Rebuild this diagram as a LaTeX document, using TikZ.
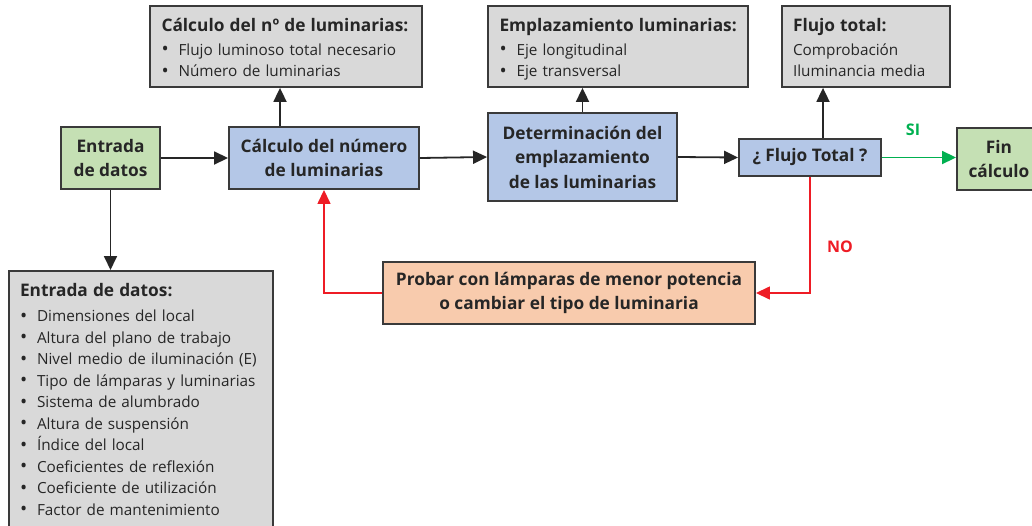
\documentclass[tikz,border=0pt]{standalone}
\usepackage{fontspec}
\setmainfont{Open Sans}
\usetikzlibrary{arrows.meta}
\definecolor{dark}{HTML}{262626}
\definecolor{edge}{HTML}{3A3A3A}
\definecolor{grayfill}{HTML}{D9D9D9}
\definecolor{greenfill}{HTML}{C5E0B4}
\definecolor{bluefill}{HTML}{B4C7E7}
\definecolor{orangefill}{HTML}{F8CBAD}
\definecolor{redline}{HTML}{EE1C25}
\definecolor{greenline}{HTML}{00B050}
\newcommand{\bul}{\makebox[17pt][l]{\raisebox{-0.5pt}{\scalebox{1.25}{•}}}}
\newcommand{\hd}[1]{\rule{0pt}{26pt}\mbox{\fontsize{17.3}{22}\selectfont\bfseries #1}}
\tikzset{
  boxbase/.style={draw=edge, line width=1.9pt, inner sep=0pt, text=dark},
  mainbox/.style={boxbase, align=center, font=\fontsize{17.3}{24.5}\selectfont\bfseries},
  infobox/.style={boxbase, fill=grayfill, align=left, anchor=north, font=\fontsize{15.3}{21.5}\selectfont},
  arr/.style={draw=dark, line width=1.8pt, -{Triangle[length=14pt,width=13pt]}},
  redarr/.style={draw=redline, line width=1.5pt, -{Triangle[length=14pt,width=13pt]}},
  greenarr/.style={draw=greenline, line width=1.8pt, -{Triangle[length=14pt,width=13pt]}},
}
\begin{document}
\begin{tikzpicture}[x=1pt,y=-1pt]
\useasboundingbox (0,0) rectangle (1032,525);
% main boxes
\node[mainbox, fill=greenfill, minimum width=99pt, minimum height=62pt] (entrada) at (110.5,158) {Entrada\\de datos};
\node[mainbox, fill=bluefill, minimum width=190pt, minimum height=62pt] (calc) at (324,158) {Cálculo del número\\de luminarias};
\node[mainbox, fill=bluefill, minimum width=189pt, minimum height=88pt] (det) at (582.5,157) {Determinación del\\emplazamiento\\de las luminarias};
\node[mainbox, fill=bluefill, minimum width=142pt, minimum height=37pt] (flujo) at (810,157.5) {¿ Flujo Total ?};
\node[mainbox, fill=greenfill, minimum width=84pt, minimum height=62pt] (fin) at (999,159) {Fin\\cálculo};
\node[mainbox, fill=orangefill, minimum width=372pt, minimum height=62pt] (probar) at (569,293) {Probar con lámparas de menor potencia\\o cambiar el tipo de luminaria};
% info boxes
\node[infobox, minimum width=272pt, text width=249pt] (g1) at (286,5)
 {\hd{Cálculo del nº de luminarias:}\\[2pt]
  \bul Flujo luminoso total necesario\\
  \bul Número de luminarias\rule[-10pt]{0pt}{10pt}};
\node[infobox, minimum width=260pt, text width=237pt] (g2) at (618,5)
 {\hd{Emplazamiento luminarias:}\\[2pt]
  \bul Eje longitudinal\\
  \bul Eje transversal\rule[-10pt]{0pt}{10pt}};
\node[infobox, minimum width=168pt, text width=146pt] (g3) at (866,5)
 {\hd{Flujo total:}\\[2pt]
  Comprobación\\
  Iluminancia media\rule[-10pt]{0pt}{10pt}};
\node[infobox, minimum width=264pt, text width=242pt] (g4) at (141,270)
 {\hd{Entrada de datos:}\\[3.5pt]
  \bul Dimensiones del local\\
  \bul Altura del plano de trabajo\\
  \bul Nivel medio de iluminación (E)\\
  \bul Tipo de lámparas y luminarias\\
  \bul Sistema de alumbrado\\
  \bul Altura de suspensión\\
  \bul Índice del local\\
  \bul Coeficientes de reflexión\\
  \bul Coeficiente de utilización\\
  \bul Factor de mantenimiento\rule[-20pt]{0pt}{20pt}};
% connectors
\draw[arr] (entrada.east) -- (calc.west);
\draw[arr] (calc.east) -- (det.west);
\draw[arr] (det.east) -- (flujo.west);
\draw[greenarr] (flujo.east) -- (flujo.east -| fin.west);
\draw[arr] ([xshift=-44pt]calc.north) -- ([xshift=-44pt]calc.north |- g1.south);
\draw[arr] (det.north) -- (det.north |- g2.south);
\draw[arr] ([xshift=13pt]flujo.north) -- ([xshift=13pt]flujo.north |- g3.south);
\draw[arr] (entrada.south) -- (entrada.south |- g4.north);
\draw[redarr] (flujo.south) -- (flujo.south |- probar.east) -- (probar.east);
\draw[redarr] (probar.west) -| (calc.south);
% labels
\node[text=greenline, font=\fontsize{16}{18}\selectfont\bfseries] (si) at (913,130) {SI};
\node[text=redline, font=\fontsize{16}{18}\selectfont\bfseries] (no) at (840,247) {NO};
\end{tikzpicture}
\end{document}
